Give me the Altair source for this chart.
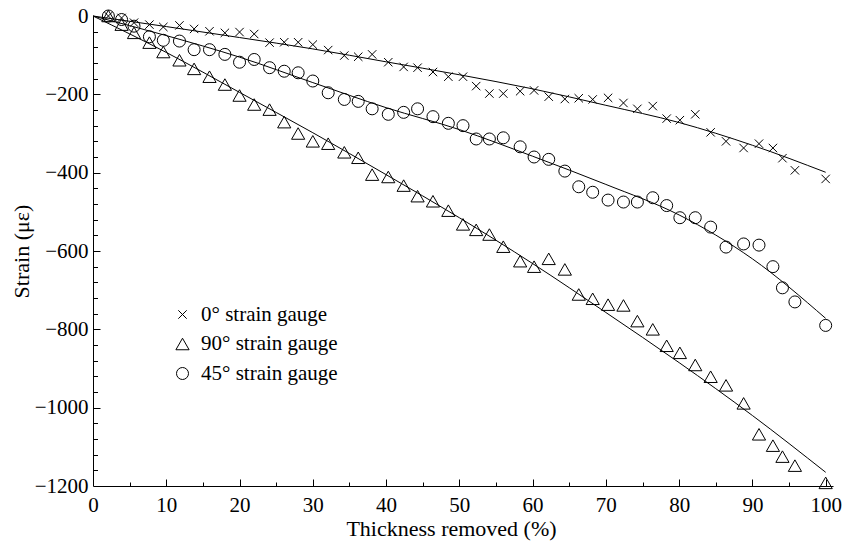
import altair as alt
import pandas as pd

# ---- data ----
thickness = [2.1, 3.9, 5.6, 7.7, 9.6, 11.8, 13.8, 15.9, 18.0, 20.0,
             22.0, 24.1, 26.1, 28.0, 30.0, 32.1, 34.3, 36.2, 38.1, 40.3,
             42.4, 44.3, 46.4, 48.5, 50.5, 52.3, 54.1, 56.0, 58.3, 60.2,
             62.2, 64.4, 66.3, 68.2, 70.3, 72.4, 74.3, 76.4, 78.3, 80.1,
             82.2, 84.3, 86.4, 88.8, 90.9, 92.8, 94.1, 95.8, 100.0]

strain_0 = [0, -5, -17, -22, -28, -24, -33, -39, -43, -41,
            -46, -68, -67, -67, -73, -87, -101, -104, -98, -118,
            -130, -132, -143, -155, -155, -179, -198, -198, -192, -190,
            -206, -212, -210, -213, -209, -222, -237, -230, -262, -266,
            -251, -297, -320, -337, -326, -337, -363, -394, -416]

strain_90 = [0, -22, -43, -68, -92, -113, -135, -155, -175, -203,
             -226, -239, -271, -300, -320, -326, -348, -362, -405, -411,
             -433, -460, -473, -497, -532, -546, -558, -589, -626, -640,
             -620, -647, -711, -722, -737, -739, -779, -800, -842, -860,
             -891, -921, -943, -989, -1068, -1097, -1125, -1148, -1192]

strain_45 = [0, -9, -26, -53, -62, -64, -86, -86, -98, -118,
             -111, -132, -141, -145, -166, -196, -213, -218, -237, -251,
             -246, -237, -257, -274, -280, -314, -314, -311, -334, -360,
             -366, -396, -436, -450, -470, -475, -475, -464, -484, -515,
             -515, -539, -590, -582, -585, -640, -694, -730, -790]

fit_x = [0, 10, 20, 30, 40, 50, 60, 70, 80, 90, 100]
fit_0 = [0, -27, -55, -84, -117, -150, -186, -228, -272, -330, -399]
fit_90 = [0, -93, -195, -298, -405, -515, -632, -757, -885, -1020, -1165]
fit_45 = [0, -50, -105, -170, -234, -290, -358, -430, -508, -620, -772]

series_names = ["\u20020\u00b0 strain gauge", "90\u00b0 strain gauge", "45\u00b0 strain gauge"]
x_major = [0, 10, 20, 30, 40, 50, 60, 70, 80, 90, 100]
x_minor = [5, 10, 15, 20, 25, 30, 35, 40, 45, 50, 55, 60, 65, 70, 75, 80, 85, 90, 95, 100]
y_major = [0, -200, -400, -600, -800, -1000, -1200]
y_minor = [-40, -80, -120, -160, -200, -240, -280, -320, -360, -400, -440, -480, -520,
           -560, -600, -640, -680, -720, -760, -800, -840, -880, -920, -960, -1000,
           -1040, -1080, -1120, -1160]

# ---- tables ----
pts = pd.DataFrame({
    "x": thickness * 3,
    "strain": strain_0 + strain_90 + strain_45,
    "series": [series_names[0]] * len(thickness) + [series_names[1]] * len(thickness)
              + [series_names[2]] * len(thickness),
})
fits = pd.DataFrame({
    "x": fit_x * 3,
    "strain": fit_0 + fit_90 + fit_45,
    "curve": ["a"] * len(fit_x) + ["b"] * len(fit_x) + ["c"] * len(fit_x),
})

FONT = "Liberation Serif"
cross_path = "M-0.7,-0.7L0.7,0.7M-0.7,0.7L0.7,-0.7"
tri_path = "M0,-0.96L1.1,0.96L-1.1,0.96Z"

xscale = alt.Scale(domain=[0, 101], nice=False, zero=False)
yscale = alt.Scale(domain=[-1200, 0], nice=False, zero=False)

points = alt.Chart(pts).mark_point(
    filled=False, color="black", strokeWidth=1, size=144, opacity=1
).encode(
    x=alt.X("x:Q", scale=xscale, axis=alt.Axis(
        orient="bottom", values=x_major, ticks=False, tickSize=0, grid=False,
        domainColor="black", domainWidth=1,
        labelFont=FONT, labelFontSize=21, labelColor="black",
        labelBaseline="alphabetic", labelPadding=25, labelFlush=False,
        title="Thickness removed (%)", titleFont=FONT, titleFontSize=22,
        titleFontWeight="normal", titleColor="black",
        titleX=358, titleY=49, titleBaseline="alphabetic", titleAlign="center")),
    y=alt.Y("strain:Q", scale=yscale, axis=alt.Axis(
        orient="left", values=y_major, ticks=False, tickSize=0, grid=False,
        domainColor="black", domainWidth=1,
        labelFont=FONT, labelFontSize=21, labelColor="black",
        labelPadding=5, labelFlush=False, format="d",
        title="Strain (\u03bc\u03b5)", titleFont=FONT, titleFontSize=22,
        titleFontWeight="normal", titleColor="black",
        titleX=-72, titleY=235, titleAngle=270, titleBaseline="middle",
        titleAlign="center")),
    shape=alt.Shape("series:N", scale=alt.Scale(
        domain=series_names, range=[cross_path, tri_path, "circle"]),
        legend=alt.Legend(
            title=None, orient="none", legendX=79, legendY=288,
            labelFont=FONT, labelFontSize=21, labelColor="black",
            symbolSize=144, symbolStrokeWidth=1, symbolStrokeColor="black",
            symbolFillColor="transparent", labelOffset=8, rowPadding=7.5,
            padding=0, labelLimit=400)),
)

lines = alt.Chart(fits).mark_line(
    color="black", strokeWidth=1, interpolate="monotone"
).encode(
    x=alt.X("x:Q", scale=xscale, axis=alt.Axis(
        orient="top", offset=-470, values=x_minor, labels=False, domain=False,
        grid=False, title=None, tickColor="black", tickWidth=1,
        tickSize={"condition": {"test": "datum.value % 10 === 0", "value": 7}, "value": 4})),
    y=alt.Y("strain:Q", scale=yscale, axis=alt.Axis(
        orient="right", offset=-740, values=y_minor, labels=False, domain=False,
        grid=False, title=None, tickColor="black", tickWidth=1,
        tickSize={"condition": {"test": "datum.value % 200 === 0", "value": 7}, "value": 4.5})),
    detail="curve:N",
)

chart = alt.layer(points, lines).resolve_axis(
    x="independent", y="independent"
).properties(
    width=740, height=470,
    padding={"left": 93, "top": 16, "right": 9, "bottom": 66},
    autosize=alt.AutoSizeParams(type="none"),
    background="white",
).configure_view(stroke=None)

chart.save("out.html", embed_options={"renderer": "svg", "actions": False})
